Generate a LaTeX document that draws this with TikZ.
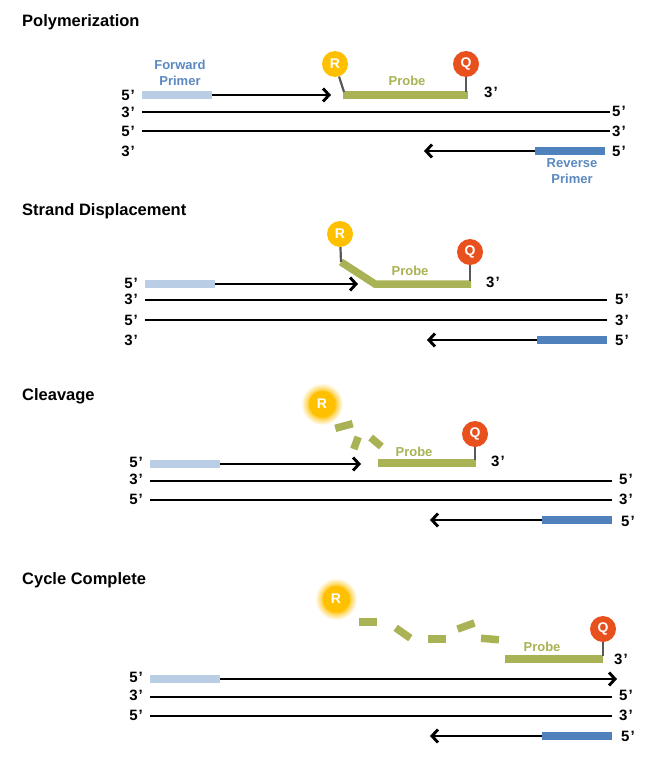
\documentclass[tikz,border=0pt]{standalone}
\usepackage{fontspec}
\setmainfont{Liberation Sans}
\usetikzlibrary{arrows.meta, positioning}
\definecolor{primerlight}{HTML}{B9CDE5}
\definecolor{primerdark}{HTML}{4F81BD}
\definecolor{primertext}{HTML}{5A88BF}
\definecolor{probegreen}{HTML}{A9B254}
\definecolor{reporterorange}{HTML}{FFC000}
\definecolor{quencherred}{HTML}{E8501E}
\definecolor{stemgray}{HTML}{595959}
\pgfdeclareradialshading{glow}{\pgfpoint{0bp}{0bp}}{color(0bp)=(reporterorange); color(15bp)=(reporterorange); color(18bp)=(reporterorange!60); color(25bp)=(white); color(50bp)=(white)}
\tikzstyle{strand} = [line width=2.9pt, black]
\tikzstyle{growing} = [strand, -{Straight Barb[length=6pt, width=13pt]}]
\tikzstyle{fwdprimer} = [line width=7.5pt, primerlight]
\tikzstyle{revprimer} = [line width=7.5pt, primerdark]
\tikzstyle{probebar} = [line width=7.5pt, probegreen]
\tikzstyle{fragment} = [rectangle, fill=probegreen, minimum width=18pt, minimum height=7.5pt, inner sep=0pt]
\tikzstyle{stem} = [line width=2.2pt, stemgray]
\tikzstyle{reporter} = [circle, fill=reporterorange, text=white, minimum size=26pt, inner sep=0pt, font=\bfseries\fontsize{14}{14}\selectfont]
\tikzstyle{quencher} = [reporter, fill=quencherred]
\tikzstyle{endlbl} = [inner sep=0pt, font=\bfseries\fontsize{15}{15}\selectfont]
\tikzstyle{title} = [anchor=west, inner sep=0pt, font=\bfseries\fontsize{16.5}{16.5}\selectfont]
\tikzstyle{primerlbl} = [align=center, text=primertext, inner sep=0pt, font=\bfseries\fontsize{13}{15.5}\selectfont]
\tikzstyle{probelbl} = [inner sep=0pt, text=probegreen, font=\bfseries\fontsize{13}{13}\selectfont]
\newcommand{\fivep}{5\kern1pt’}
\newcommand{\threep}{3\kern1pt’}

\begin{document}
\begin{tikzpicture}[x=1pt, y=-1pt]
\useasboundingbox (0,0) rectangle (657,773);

% Polymerization
\node[title] (t1) at (22,22) {Polymerization};
\coordinate (a1) at (142,95); \coordinate (b1) at (212,95); \coordinate (c1) at (331,95);
\coordinate (s1a) at (142,112); \coordinate (s1b) at (610,112);
\coordinate (s1c) at (142,131); \coordinate (s1d) at (610,131);
\coordinate (d1) at (605,151); \coordinate (e1) at (535,151); \coordinate (g1) at (424,151);
\draw[fwdprimer] (a1) -- (b1);
\draw[growing] (b1) -- (c1);
\draw[strand] (s1a) -- (s1b);
\draw[strand] (s1c) -- (s1d);
\draw[revprimer] (d1) -- (e1);
\draw[growing] (e1) -- (g1);
\node[primerlbl] (fp1) at (180,73) {Forward\\Primer};
\node[primerlbl] (rp1) at (572,171) {Reverse\\Primer};
\coordinate (pa1) at (343,95); \coordinate (pb1) at (468,95);
\draw[probebar] (pa1) -- (pb1);
\coordinate (rf1) at (344,92); \coordinate (qf1) at (466,92);
\node[reporter] (R1) at (335,64) {R};
\node[quencher] (Q1) at (466,64) {Q};
\draw[stem] (R1) -- (rf1);
\draw[stem] (Q1) -- (qf1);
\node[probelbl] (pl1) at (407,81) {Probe};
\node[endlbl, anchor=west] (x1) at (484,92) {\threep};
\node[endlbl, anchor=east] at (135,95) {\fivep};
\node[endlbl, anchor=east] at (135,112) {\threep};
\node[endlbl, anchor=east] at (135,131) {\fivep};
\node[endlbl, anchor=east] at (135,151) {\threep};
\node[endlbl, anchor=west] at (612,111) {\fivep};
\node[endlbl, anchor=west] at (612,131) {\threep};
\node[endlbl, anchor=west] at (612,151) {\fivep};

% Strand Displacement
\node[title] (t2) at (22,211) {Strand Displacement};
\coordinate (a2) at (145,284); \coordinate (b2) at (215,284); \coordinate (c2) at (358,284);
\coordinate (s2a) at (145,300); \coordinate (s2b) at (607,300);
\coordinate (s2c) at (145,320); \coordinate (s2d) at (607,320);
\coordinate (d2) at (607,340); \coordinate (e2) at (537,340); \coordinate (g2) at (427,340);
\draw[fwdprimer] (a2) -- (b2);
\draw[growing] (b2) -- (c2);
\draw[strand] (s2a) -- (s2b);
\draw[strand] (s2c) -- (s2d);
\draw[revprimer] (d2) -- (e2);
\draw[growing] (e2) -- (g2);
\coordinate (pk2) at (341,262); \coordinate (pa2) at (375,284); \coordinate (pb2) at (471,284);
\draw[probebar] (pk2) -- (pa2) -- (pb2);
\node[reporter] (R2) at (340,234) {R};
\node[quencher] (Q2) at (470,252) {Q};
\coordinate (qf2) at (470,281);
\draw[stem] (R2) -- (pk2);
\draw[stem] (Q2) -- (qf2);
\node[probelbl] (pl2) at (410,271) {Probe};
\node[endlbl, anchor=west] (x2) at (486,282) {\threep};
\node[endlbl, anchor=east] at (138,283) {\fivep};
\node[endlbl, anchor=east] at (138,299) {\threep};
\node[endlbl, anchor=east] at (138,320) {\fivep};
\node[endlbl, anchor=east] at (138,340) {\threep};
\node[endlbl, anchor=west] at (615,299) {\fivep};
\node[endlbl, anchor=west] at (615,320) {\threep};
\node[endlbl, anchor=west] at (615,340) {\fivep};

% Cleavage
\node[title] (t3) at (22,396) {Cleavage};
\coordinate (a3) at (150,464); \coordinate (b3) at (220,464); \coordinate (c3) at (361,464);
\coordinate (s3a) at (150,481); \coordinate (s3b) at (612,481);
\coordinate (s3c) at (150,500); \coordinate (s3d) at (612,500);
\coordinate (d3) at (612,520); \coordinate (e3) at (542,520); \coordinate (g3) at (430,520);
\draw[fwdprimer] (a3) -- (b3);
\draw[growing] (b3) -- (c3);
\draw[strand] (s3a) -- (s3b);
\draw[strand] (s3c) -- (s3d);
\draw[revprimer] (d3) -- (e3);
\draw[growing] (e3) -- (g3);
\shade[shading=glow] (322,404) circle (21);
\node[reporter] (R3) at (322,404) {R};
\node[fragment, rotate=15] (f31) at (344,426) {};
\node[fragment, rotate=70, minimum width=13pt] (f32) at (356,443) {};
\node[fragment, rotate=-40, minimum width=14pt] (f33) at (376,442) {};
\coordinate (pa3) at (378,463); \coordinate (pb3) at (476,463);
\draw[probebar] (pa3) -- (pb3);
\node[quencher] (Q3) at (475,434) {Q};
\coordinate (qf3) at (475,460);
\draw[stem] (Q3) -- (qf3);
\node[probelbl] (pl3) at (414,452) {Probe};
\node[endlbl, anchor=west] (x3) at (491,461) {\threep};
\node[endlbl, anchor=east] at (143,462) {\fivep};
\node[endlbl, anchor=east] at (143,479) {\threep};
\node[endlbl, anchor=east] at (143,499) {\fivep};
\node[endlbl, anchor=west] at (619,479) {\fivep};
\node[endlbl, anchor=west] at (619,499) {\threep};
\node[endlbl, anchor=west] at (621,521) {\fivep};

% Cycle Complete
\node[title] (t4) at (22,580) {Cycle Complete};
\coordinate (a4) at (150,679); \coordinate (b4) at (220,679); \coordinate (c4) at (617,679);
\coordinate (s4a) at (150,697); \coordinate (s4b) at (612,697);
\coordinate (s4c) at (150,716); \coordinate (s4d) at (612,716);
\coordinate (d4) at (612,736); \coordinate (e4) at (542,736); \coordinate (g4) at (430,736);
\draw[fwdprimer] (a4) -- (b4);
\draw[growing] (b4) -- (c4);
\draw[strand] (s4a) -- (s4b);
\draw[strand] (s4c) -- (s4d);
\draw[revprimer] (d4) -- (e4);
\draw[growing] (e4) -- (g4);
\shade[shading=glow] (336,599) circle (21);
\node[reporter] (R4) at (336,599) {R};
\node[fragment] (f41) at (368,622) {};
\node[fragment, rotate=-35] (f42) at (403,633) {};
\node[fragment] (f43) at (437,639) {};
\node[fragment, rotate=20] (f44) at (466,626) {};
\node[fragment, rotate=-5] (f45) at (490,639) {};
\coordinate (pa4) at (505,659); \coordinate (pb4) at (603,659);
\draw[probebar] (pa4) -- (pb4);
\node[quencher] (Q4) at (603,629) {Q};
\coordinate (qf4) at (603,656);
\draw[stem] (Q4) -- (qf4);
\node[probelbl] (pl4) at (542,647) {Probe};
\node[endlbl, anchor=west] (x4) at (614,659) {\threep};
\node[endlbl, anchor=east] at (143,677) {\fivep};
\node[endlbl, anchor=east] at (143,695) {\threep};
\node[endlbl, anchor=east] at (143,715) {\fivep};
\node[endlbl, anchor=west] at (619,695) {\fivep};
\node[endlbl, anchor=west] at (619,715) {\threep};
\node[endlbl, anchor=west] at (621,736) {\fivep};
\end{tikzpicture}
\end{document}
